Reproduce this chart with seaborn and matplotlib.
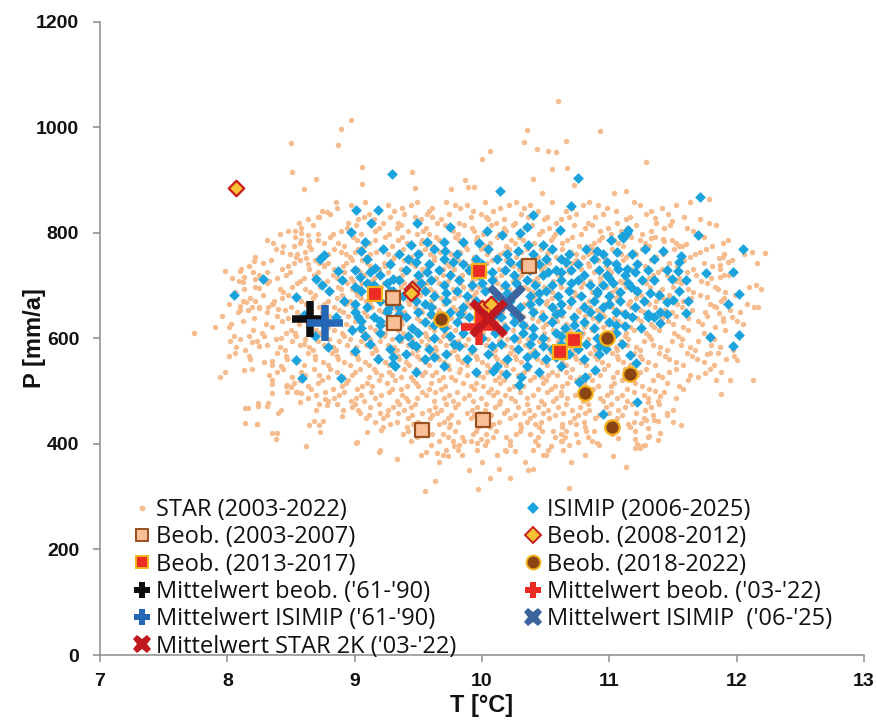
import matplotlib
matplotlib.use("Agg")
import matplotlib.pyplot as plt
import seaborn as sns
import pandas as pd
from matplotlib.lines import Line2D

# ---------------- data (read / estimated from the reference picture) ----------------
STAR_ROW_P = [847, 858, 841, 852, 825, 836, 819, 830, 803, 814, 797, 808, 781, 792, 775, 786,
              759, 770, 753, 764, 737, 748, 731, 742, 715, 726, 709, 720, 693, 704, 687, 698,
              671, 682, 665, 676, 649, 660, 643, 654, 627, 638, 621, 632, 605, 616, 599, 610,
              583, 594, 577, 588, 561, 572, 555, 566, 550,
              531, 542, 526, 537, 509, 520, 504, 515, 487, 498, 482, 493, 465, 476, 459, 470,
              442, 454, 437, 448, 419, 431, 413, 425, 405, 397, 389, 378, 365, 350]
STAR_ROW_T = [
    [8.86, 9.37, 9.61, 9.83, 10.14, 10.33, 10.71, 10.98, 11.41],
    [9.08, 9.49, 9.72, 10.02, 10.27, 10.55, 10.84, 11.19, 11.63],
    [8.74, 9.19, 9.31, 9.58, 9.93, 10.09, 10.44, 10.66, 11.05, 11.33],
    [8.97, 9.26, 9.44, 9.79, 9.88, 10.21, 10.38, 10.79, 10.91, 11.24, 11.52],
    [8.63, 9.03, 9.15, 9.52, 9.68, 10.05, 10.17, 10.49, 10.62, 11.13, 11.71],
    [8.81, 9.11, 9.39, 9.57, 9.74, 9.99, 10.31, 10.42, 10.74, 10.95, 11.29, 11.46],
    [8.56, 8.95, 9.22, 9.34, 9.65, 9.82, 10.11, 10.26, 10.58, 10.83, 11.06, 11.37, 11.78],
    [8.72, 9.07, 9.28, 9.47, 9.61, 9.91, 10.03, 10.36, 10.51, 10.68, 10.89, 11.16, 11.59],
    [8.48, 8.89, 9.16, 9.42, 9.54, 9.77, 9.94, 10.19, 10.47, 10.61, 10.93, 11.09, 11.33, 11.66],
    [8.67, 9.01, 9.13, 9.36, 9.71, 9.86, 10.07, 10.24, 10.39, 10.72, 10.86, 11.21, 11.48, 11.84],
    [8.41, 8.83, 9.05, 9.27, 9.49, 9.58, 9.81, 10.01, 10.13, 10.45, 10.57, 10.78, 11.01, 11.26, 11.69],
    [8.58, 8.94, 9.19, 9.33, 9.56, 9.74, 9.92, 10.17, 10.34, 10.53, 10.81, 10.99, 11.14, 11.43, 11.61],
    [8.36, 8.76, 8.87, 9.11, 9.41, 9.52, 9.69, 9.85, 10.06, 10.26, 10.41, 10.63, 10.88, 11.07, 11.28, 11.52, 11.89],
    [8.53, 8.81, 8.99, 9.24, 9.37, 9.64, 9.79, 9.96, 10.12, 10.29, 10.56, 10.71, 10.94, 11.17, 11.36, 11.74],
    [8.44, 8.64, 8.92, 9.07, 9.29, 9.45, 9.61, 9.87, 10.02, 10.19, 10.37, 10.49, 10.76, 10.85, 11.11, 11.31, 11.57, 11.81],
    [8.31, 8.58, 8.71, 9.02, 9.16, 9.34, 9.53, 9.66, 9.82, 9.95, 10.23, 10.32, 10.54, 10.67, 10.92, 11.04, 11.24, 11.49, 11.93],
    [8.49, 8.79, 8.93, 9.12, 9.26, 9.48, 9.59, 9.76, 10.04, 10.14, 10.39, 10.51, 10.74, 10.83, 11.09, 11.21, 11.42, 11.67, 12.06],
    [8.38, 8.66, 8.84, 9.03, 9.21, 9.38, 9.55, 9.71, 9.88, 9.99, 10.21, 10.35, 10.46, 10.63, 10.88, 11.02, 11.26, 11.51, 11.76],
    [8.22, 8.54, 8.72, 8.96, 9.09, 9.31, 9.44, 9.62, 9.79, 9.94, 10.11, 10.27, 10.44, 10.58, 10.79, 10.96, 11.13, 11.37, 11.63, 11.89],
    [8.43, 8.61, 8.89, 9.00, 9.17, 9.35, 9.51, 9.67, 9.83, 10.05, 10.17, 10.31, 10.52, 10.70, 10.86, 11.06, 11.19, 11.44, 11.71, 12.12],
    [8.17, 8.48, 8.76, 8.91, 9.12, 9.24, 9.47, 9.57, 9.74, 9.90, 10.01, 10.24, 10.38, 10.49, 10.66, 10.84, 10.97, 11.28, 11.53, 11.81],
    [8.34, 8.57, 8.69, 8.98, 9.06, 9.29, 9.39, 9.62, 9.81, 9.93, 10.08, 10.19, 10.41, 10.61, 10.74, 10.91, 11.11, 11.33, 11.59, 11.96],
    [8.11, 8.43, 8.64, 8.84, 9.02, 9.19, 9.36, 9.53, 9.69, 9.78, 9.98, 10.13, 10.29, 10.46, 10.57, 10.78, 10.99, 11.17, 11.41, 11.66, 11.87],
    [8.28, 8.52, 8.79, 8.93, 9.10, 9.23, 9.44, 9.58, 9.72, 9.87, 10.04, 10.22, 10.34, 10.53, 10.71, 10.83, 11.04, 11.23, 11.47, 11.74, 12.16],
    [8.04, 8.39, 8.60, 8.86, 8.97, 9.15, 9.33, 9.49, 9.64, 9.81, 9.95, 10.10, 10.28, 10.43, 10.62, 10.76, 10.93, 11.12, 11.31, 11.55, 11.80],
    [8.20, 8.49, 8.71, 8.92, 9.04, 9.26, 9.41, 9.55, 9.76, 9.89, 10.02, 10.18, 10.37, 10.49, 10.68, 10.88, 11.01, 11.19, 11.38, 11.61, 11.98],
    [8.09, 8.33, 8.57, 8.78, 8.99, 9.13, 9.30, 9.47, 9.61, 9.73, 9.92, 10.07, 10.24, 10.40, 10.56, 10.73, 10.85, 11.08, 11.27, 11.52, 11.72],
    [8.25, 8.46, 8.68, 8.83, 9.07, 9.18, 9.37, 9.52, 9.69, 9.84, 9.97, 10.15, 10.31, 10.47, 10.60, 10.81, 10.96, 11.14, 11.34, 11.45, 11.68, 11.94],
    [8.13, 8.41, 8.61, 8.89, 8.98, 9.11, 9.28, 9.44, 9.59, 9.77, 9.91, 10.05, 10.21, 10.36, 10.52, 10.67, 10.90, 11.05, 11.22, 11.41, 11.62, 11.85, 12.19],
    [8.31, 8.55, 8.74, 8.94, 9.06, 9.23, 9.39, 9.57, 9.66, 9.83, 10.01, 10.12, 10.28, 10.44, 10.61, 10.79, 10.93, 11.11, 11.29, 11.56, 11.77],
    [8.06, 8.44, 8.65, 8.81, 9.01, 9.15, 9.34, 9.48, 9.62, 9.79, 9.95, 10.09, 10.25, 10.39, 10.55, 10.72, 10.86, 11.02, 11.20, 11.39, 11.66, 11.91],
    [8.22, 8.51, 8.73, 8.87, 9.04, 9.21, 9.36, 9.54, 9.71, 9.85, 9.98, 10.16, 10.33, 10.49, 10.62, 10.78, 10.97, 11.13, 11.32, 11.50, 11.83, 12.10],
    [8.12, 8.37, 8.58, 8.79, 8.96, 9.09, 9.27, 9.42, 9.60, 9.74, 9.88, 10.04, 10.20, 10.37, 10.51, 10.69, 10.84, 11.00, 11.16, 11.37, 11.58, 11.88],
    [8.28, 8.48, 8.69, 8.90, 9.02, 9.18, 9.33, 9.51, 9.64, 9.82, 9.94, 10.11, 10.26, 10.42, 10.58, 10.74, 10.91, 11.07, 11.25, 11.47, 11.71, 11.99],
    [8.01, 8.35, 8.62, 8.76, 8.93, 9.12, 9.26, 9.43, 9.57, 9.70, 9.89, 10.03, 10.18, 10.33, 10.50, 10.64, 10.80, 10.97, 11.15, 11.31, 11.53, 11.79, 12.08],
    [8.18, 8.43, 8.67, 8.86, 9.05, 9.17, 9.35, 9.49, 9.68, 9.78, 9.93, 10.08, 10.23, 10.40, 10.55, 10.71, 10.89, 11.05, 11.21, 11.42, 11.64, 11.90],
    [8.08, 8.31, 8.55, 8.74, 8.91, 9.07, 9.22, 9.39, 9.53, 9.73, 9.86, 10.01, 10.16, 10.29, 10.47, 10.62, 10.76, 10.94, 11.10, 11.27, 11.49, 11.75, 12.03],
    [8.25, 8.50, 8.72, 8.84, 8.99, 9.14, 9.31, 9.47, 9.62, 9.77, 9.91, 10.06, 10.21, 10.38, 10.54, 10.68, 10.85, 11.02, 11.17, 11.36, 11.57, 11.84, 12.14],
    [7.96, 8.39, 8.61, 8.80, 8.95, 9.10, 9.28, 9.41, 9.58, 9.72, 9.84, 10.00, 10.14, 10.32, 10.46, 10.63, 10.81, 10.96, 11.13, 11.30, 11.52, 11.77],
    [8.16, 8.45, 8.66, 8.88, 9.01, 9.19, 9.33, 9.52, 9.66, 9.80, 9.96, 10.11, 10.27, 10.42, 10.58, 10.75, 10.90, 11.06, 11.24, 11.44, 11.65, 11.95],
    [8.03, 8.30, 8.56, 8.76, 8.93, 9.06, 9.24, 9.37, 9.55, 9.70, 9.87, 10.03, 10.17, 10.34, 10.50, 10.66, 10.82, 10.98, 11.11, 11.33, 11.50, 11.73, 12.05],
    [8.21, 8.48, 8.71, 8.85, 9.03, 9.17, 9.30, 9.49, 9.63, 9.76, 9.93, 10.07, 10.25, 10.39, 10.55, 10.71, 10.87, 11.04, 11.22, 11.41, 11.62, 11.89],
    [7.90, 8.35, 8.63, 8.79, 8.97, 9.12, 9.27, 9.43, 9.59, 9.74, 9.89, 10.02, 10.19, 10.35, 10.48, 10.64, 10.80, 10.95, 11.16, 11.35, 11.58, 11.83],
    [8.12, 8.43, 8.66, 8.87, 9.00, 9.21, 9.36, 9.51, 9.65, 9.81, 9.97, 10.12, 10.28, 10.44, 10.59, 10.73, 10.91, 11.07, 11.25, 11.46, 11.70, 12.00],
    [8.05, 8.29, 8.54, 8.75, 8.92, 9.08, 9.23, 9.40, 9.56, 9.69, 9.84, 10.00, 10.15, 10.31, 10.47, 10.62, 10.78, 10.94, 11.12, 11.31, 11.54, 11.78],
    [8.20, 8.50, 8.70, 8.84, 9.04, 9.16, 9.34, 9.48, 9.62, 9.79, 9.93, 10.09, 10.24, 10.40, 10.56, 10.69, 10.86, 11.03, 11.19, 11.39, 11.62, 11.91],
    [8.10, 8.38, 8.61, 8.80, 8.96, 9.12, 9.29, 9.45, 9.58, 9.75, 9.89, 10.05, 10.20, 10.36, 10.52, 10.66, 10.83, 11.00, 11.15, 11.33, 11.57, 11.82],
    [8.27, 8.53, 8.73, 8.90, 9.07, 9.24, 9.38, 9.55, 9.71, 9.86, 10.01, 10.17, 10.33, 10.49, 10.63, 10.79, 10.97, 11.13, 11.29, 11.51, 11.74, 12.02],
    [8.07, 8.41, 8.64, 8.83, 9.01, 9.15, 9.31, 9.46, 9.63, 9.78, 9.92, 10.08, 10.23, 10.37, 10.53, 10.70, 10.88, 11.05, 11.21, 11.40, 11.63, 11.87],
    [8.23, 8.51, 8.71, 8.88, 9.05, 9.20, 9.36, 9.52, 9.67, 9.81, 9.98, 10.13, 10.29, 10.45, 10.60, 10.76, 10.92, 11.09, 11.27, 11.49, 11.70],
    [8.14, 8.45, 8.67, 8.85, 9.00, 9.17, 9.33, 9.49, 9.64, 9.78, 9.94, 10.10, 10.25, 10.41, 10.57, 10.72, 10.89, 11.06, 11.24, 11.45, 11.67, 11.97],
    [8.31, 8.57, 8.76, 8.94, 9.09, 9.26, 9.42, 9.57, 9.72, 9.87, 10.03, 10.18, 10.34, 10.50, 10.65, 10.81, 10.97, 11.14, 11.34, 11.56, 11.80],
    [8.18, 8.47, 8.69, 8.87, 9.03, 9.19, 9.35, 9.51, 9.66, 9.81, 9.96, 10.12, 10.27, 10.43, 10.58, 10.74, 10.90, 11.07, 11.26, 11.47, 11.69, 11.92],
    [8.06, 8.39, 8.63, 8.82, 8.98, 9.14, 9.30, 9.45, 9.60, 9.75, 9.91, 10.07, 10.22, 10.38, 10.54, 10.69, 10.85, 11.02, 11.19, 11.39, 11.61, 11.85],
    [8.29, 8.55, 8.75, 8.92, 9.08, 9.24, 9.40, 9.55, 9.70, 9.84, 10.00, 10.16, 10.31, 10.47, 10.63, 10.78, 10.94, 11.11, 11.30, 11.52, 11.74],
    [8.17, 8.46, 8.69, 8.86, 9.02, 9.18, 9.34, 9.49, 9.65, 9.80, 9.95, 10.10, 10.26, 10.42, 10.57, 10.73, 10.89, 11.06, 11.24, 11.44, 11.65, 11.98],
    [8.35, 8.60, 8.79, 8.96, 9.11, 9.27, 9.43, 9.58, 9.73, 9.88, 10.04, 10.19, 10.35, 10.51, 10.66, 10.82, 10.99, 11.16, 11.36, 11.58, 11.82],
    [8.33, 8.61, 8.72, 8.98, 9.21, 9.29, 9.53, 9.61, 9.88, 9.97, 10.19, 10.28, 10.52, 10.59, 10.84, 10.93, 11.22, 11.38, 11.63],
    [8.19, 8.44, 8.68, 8.81, 9.04, 9.15, 9.39, 9.48, 9.74, 9.83, 10.06, 10.24, 10.36, 10.61, 10.71, 10.96, 11.12, 11.29, 11.52, 11.79],
    [8.51, 8.79, 8.91, 9.11, 9.36, 9.44, 9.69, 9.76, 10.01, 10.13, 10.41, 10.47, 10.69, 10.77, 11.03, 11.16, 11.41, 11.70],
    [8.39, 8.58, 8.86, 9.00, 9.17, 9.27, 9.55, 9.64, 9.82, 10.04, 10.15, 10.33, 10.55, 10.66, 10.88, 11.06, 11.24, 11.47, 11.88],
    [8.46, 8.63, 8.90, 9.06, 9.14, 9.41, 9.50, 9.71, 9.91, 10.01, 10.25, 10.32, 10.57, 10.63, 10.91, 11.01, 11.26, 11.55],
    [8.35, 8.57, 8.74, 8.95, 9.19, 9.32, 9.46, 9.66, 9.79, 10.10, 10.17, 10.38, 10.50, 10.74, 10.86, 11.10, 11.34, 11.62, 11.95],
    [8.66, 8.83, 9.02, 9.29, 9.36, 9.58, 9.68, 9.94, 10.07, 10.21, 10.44, 10.54, 10.79, 10.87, 11.14, 11.31, 11.58],
    [8.52, 8.71, 8.93, 9.10, 9.25, 9.48, 9.60, 9.85, 9.95, 10.14, 10.29, 10.48, 10.67, 10.80, 11.04, 11.20, 11.45],
    [8.63, 8.84, 9.01, 9.16, 9.40, 9.49, 9.70, 9.86, 9.99, 10.23, 10.35, 10.58, 10.67, 10.93, 11.06, 11.30, 11.52],
    [8.55, 8.77, 8.92, 9.13, 9.27, 9.53, 9.63, 9.80, 10.05, 10.12, 10.30, 10.51, 10.62, 10.85, 11.01, 11.19, 11.43],
    [8.79, 8.97, 9.07, 9.33, 9.42, 9.62, 9.77, 9.93, 10.14, 10.26, 10.46, 10.56, 10.79, 10.95, 11.14, 11.38],
    [8.70, 8.88, 9.05, 9.21, 9.37, 9.56, 9.74, 9.90, 10.09, 10.18, 10.40, 10.62, 10.73, 10.98, 11.10, 11.27],
    [8.91, 9.03, 9.26, 9.39, 9.58, 9.68, 9.92, 10.02, 10.20, 10.37, 10.52, 10.71, 10.84, 11.07, 11.28, 11.50],
    [8.86, 9.00, 9.19, 9.35, 9.47, 9.72, 9.81, 10.03, 10.13, 10.35, 10.49, 10.66, 10.83, 11.01, 11.18, 11.39],
    [9.04, 9.20, 9.34, 9.53, 9.65, 9.88, 9.98, 10.17, 10.33, 10.48, 10.64, 10.81, 11.00, 11.21, 11.45],
    [8.98, 9.12, 9.30, 9.44, 9.63, 9.79, 9.96, 10.10, 10.28, 10.44, 10.60, 10.77, 10.97, 11.12, 11.33],
    [9.16, 9.33, 9.50, 9.70, 9.81, 10.03, 10.13, 10.35, 10.46, 10.69, 10.80, 11.03, 11.19],
    [9.11, 9.25, 9.45, 9.61, 9.76, 9.94, 10.07, 10.26, 10.41, 10.57, 10.75, 10.92, 11.10, 11.34],
    [9.28, 9.46, 9.66, 9.75, 9.98, 10.09, 10.30, 10.42, 10.63, 10.74, 10.98, 11.15],
    [9.09, 9.22, 9.42, 9.59, 9.73, 9.91, 10.04, 10.22, 10.38, 10.53, 10.72, 10.89, 11.06, 11.27],
    [9.38, 9.61, 9.69, 9.93, 10.03, 10.27, 10.38, 10.62, 10.74, 11.02],
    [9.22, 9.41, 9.57, 9.74, 9.97, 10.06, 10.31, 10.45, 10.63, 10.81, 10.97, 11.16],
    [9.49, 9.73, 9.84, 10.09, 10.19, 10.44, 10.57, 10.83],
    [9.42, 9.55, 9.79, 9.95, 10.11, 10.30, 10.47, 10.66, 10.88],
    [9.44, 9.66, 9.86, 10.04, 10.22, 10.42, 10.63, 10.86],
    [9.60, 9.82, 10.02, 10.22, 10.44, 10.68, 10.92],
    [9.72, 9.96, 10.18, 10.40, 10.64],
    [9.52, 9.84, 10.12, 10.48, 10.81],
    [9.66, 10.00, 10.34, 10.70],
    [9.90, 10.36],
]
STAR_EXTRA = [
    (10.60, 1049), (10.35, 994), (10.33, 972), (10.93, 992), (10.66, 973), (10.43, 959), (10.52, 955),
    (10.58, 953), (10.06, 955), (10.00, 939), (10.55, 920), (10.67, 922), (11.29, 934), (9.45, 914),
    (10.40, 901), (9.87, 900), (9.89, 886), (9.94, 887), (9.76, 882), (9.47, 885), (10.47, 876),
    (10.72, 890), (11.04, 876), (11.13, 878), (11.36, 828), (11.49, 823), (11.43, 785),
    (8.97, 1013), (8.89, 996), (8.87, 967), (8.50, 969), (8.51, 915), (9.06, 925), (9.06, 893),
    (8.70, 902), (8.60, 883), (8.85, 859), (8.78, 840), (8.71, 830), (8.53, 804), (8.58, 799),
    (8.63, 795), (8.64, 785), (8.71, 797),
    (11.78, 864), (12.22, 761), (12.15, 701), (12.17, 660), (12.13, 520), (11.88, 494), (11.84, 521),
    (12.00, 559), (11.75, 534), (11.77, 571), (11.79, 573), (11.77, 679), (11.82, 662), (11.86, 647),
    (11.96, 640), (11.89, 632), (11.86, 752), (11.90, 760), (11.87, 738), (11.93, 744), (11.87, 716),
    (11.90, 720), (11.55, 775), (11.60, 778), (11.42, 788), (11.33, 790), (11.56, 436), (11.45, 455),
    (11.50, 442), (11.40, 420), (11.20, 410), (11.30, 412), (11.38, 408), (11.22, 400), (11.28, 398),
    (7.74, 609), (7.94, 527), (7.98, 537), (7.98, 727), (8.01, 622), (8.01, 567), (8.02, 595),
    (8.13, 540), (8.14, 440), (8.23, 438), (8.16, 468), (8.24, 472), (8.31, 472), (8.35, 420),
    (8.39, 420), (8.38, 409), (8.35, 497), (8.21, 746), (8.10, 727), (8.13, 716), (8.12, 706),
    (8.25, 695), (8.31, 726), (8.22, 712), (8.10, 662), (8.15, 668), (8.19, 660), (8.22, 670),
    (8.10, 654), (8.25, 657), (8.32, 660), (8.36, 665), (8.40, 655), (8.17, 605), (8.25, 585),
    (8.19, 592), (8.42, 600), (8.46, 609), (8.53, 608), (8.60, 590), (8.35, 557), (8.42, 548),
    (8.50, 507), (8.58, 497), (8.47, 511), (8.62, 396), (9.02, 403), (9.20, 388), (8.72, 475),
    (8.77, 484), (8.90, 453), (8.68, 443), (8.75, 443), (8.52, 775), (8.57, 780), (8.55, 760),
    (8.62, 752), (8.63, 740), (8.72, 742), (8.76, 738),
    (8.14, 468), (8.24, 477), (8.32, 478), (8.23, 437), (8.35, 513), (8.47, 499), (8.54, 499),
    (8.42, 465), (8.40, 459), (8.57, 480), (8.64, 436), (8.73, 423), (8.72, 436), (8.70, 464),
    (8.78, 474), (9.01, 402), (9.10, 423), (9.21, 426), (9.19, 385), (9.33, 371), (9.55, 311),
    (9.63, 330), (9.69, 379), (9.73, 377), (9.56, 385), (9.65, 383), (9.77, 405), (9.78, 395),
    (9.81, 388), (9.91, 405), (9.96, 402), (9.99, 410), (9.97, 314), (10.13, 353), (10.22, 335),
    (10.06, 335), (10.19, 386), (10.26, 386), (10.40, 352), (10.56, 424), (10.62, 405), (10.65, 412),
    (10.50, 378), (10.52, 388), (10.54, 395), (10.68, 317), (10.75, 403), (10.82, 424), (10.90, 401),
    (11.03, 377), (11.13, 357), (11.07, 411), (11.20, 425), (11.25, 440), (11.30, 430), (11.31, 415),
    (11.29, 445), (11.20, 393), (11.24, 393), (11.26, 395), (11.35, 445), (11.38, 443), (11.30, 480),
    (11.36, 500), (11.40, 490),
]

ISI_ROW_P = [770, 760, 750, 740, 730, 720, 710, 700, 690, 680, 670, 660, 650, 640, 630, 620,
             610, 600, 590, 580, 570, 560, 548, 536,
             765, 745, 725, 705, 685, 665, 645, 625, 605, 585, 565]
ISI_ROW_T = [
    [9.22, 9.62, 10.05, 10.55, 10.82, 11.28],
    [9.35, 9.50, 9.80, 10.20, 10.40, 10.68, 10.95, 11.18],
    [9.10, 9.42, 9.70, 9.95, 10.12, 10.50, 10.62, 10.88, 11.35],
    [9.28, 9.58, 9.85, 10.00, 10.30, 10.45, 10.75, 11.05, 11.22],
    [9.00, 9.40, 9.66, 9.90, 10.18, 10.38, 10.58, 10.70, 10.92, 11.30, 11.45],
    [9.20, 9.50, 9.75, 9.98, 10.25, 10.48, 10.80, 10.98, 11.12],
    [8.90, 9.35, 9.60, 9.82, 10.08, 10.35, 10.62, 10.75, 11.35, 11.60],
    [9.15, 9.45, 9.70, 9.92, 10.18, 10.42, 10.55, 10.85, 10.95],
    [9.05, 9.28, 9.55, 9.80, 10.02, 10.28, 10.50, 10.68, 10.90, 11.22, 11.55],
    [9.38, 9.62, 9.88, 10.12, 10.38, 10.60, 10.78, 11.00],
    [8.92, 9.20, 9.48, 9.72, 9.95, 10.22, 10.45, 10.70, 10.88, 11.08, 11.62],
    [9.10, 9.35, 9.60, 9.85, 10.30, 10.55, 10.80, 10.95, 11.20],
    [9.25, 9.50, 9.75, 10.00, 10.40, 10.62, 10.85, 11.05, 11.40],
    [8.85, 9.15, 9.40, 9.65, 9.90, 10.15, 10.48, 10.72, 10.92, 11.18, 11.30],
    [9.30, 9.55, 9.80, 10.25, 10.55, 10.80, 11.00],
    [9.05, 9.45, 9.70, 9.95, 10.18, 10.40, 10.65, 10.88, 11.25],
    [9.20, 9.50, 9.85, 10.10, 10.32, 10.58, 10.75, 11.05],
    [9.35, 9.62, 10.00, 10.25, 10.48, 10.70, 10.90],
    [9.12, 9.45, 9.78, 10.15, 10.38, 10.62, 10.82, 11.10],
    [9.28, 9.58, 9.92, 10.28, 10.55, 10.75],
    [9.40, 9.72, 10.05, 10.42, 10.68, 10.92],
    [9.18, 9.55, 9.88, 10.20, 10.50, 10.80],
    [9.32, 9.70, 10.12, 10.35, 10.62],
    [9.48, 9.95, 10.45],
    [9.05, 9.71, 10.28, 10.90, 11.42],
    [9.48, 9.77, 10.22, 10.66, 10.98, 11.55],
    [9.12, 9.57, 10.08, 10.52, 10.62, 11.20],
    [9.25, 9.52, 10.00, 10.27, 10.70, 11.15],
    [9.17, 9.45, 9.72, 10.20, 10.45, 10.90, 11.32],
    [9.00, 9.28, 9.55, 10.10, 10.38, 10.62, 11.00],
    [9.35, 9.60, 9.83, 10.25, 10.58, 11.12],
    [9.20, 9.62, 10.08, 10.32, 10.72, 11.05],
    [9.08, 9.42, 9.75, 10.40, 10.62, 10.98],
    [9.48, 9.82, 10.08, 10.48, 10.92],
    [9.30, 9.62, 10.35, 10.58],
]
ISI_EXTRA = [
    (9.29, 911), (9.01, 842), (9.18, 843), (9.13, 818), (8.97, 802), (9.08, 782), (10.14, 879),
    (10.75, 904), (10.70, 850), (10.40, 833), (9.49, 819), (9.75, 811), (10.04, 803), (10.16, 795),
    (10.30, 800), (10.35, 810), (10.61, 805), (11.01, 787), (11.15, 805), (11.10, 794), (9.57, 782),
    (9.70, 783), (9.85, 783), (9.98, 780), (9.44, 776), (10.36, 776), (10.48, 777),
    (11.71, 868), (11.70, 795), (12.05, 770), (11.56, 756), (11.76, 724), (11.97, 726), (11.54, 728),
    (11.49, 713), (12.02, 683), (11.93, 665), (11.60, 648), (11.79, 602), (12.02, 607), (11.97, 586),
    (11.39, 682), (11.50, 672), (11.45, 668), (11.27, 671), (11.26, 710), (11.17, 698), (11.08, 688),
    (11.14, 732), (11.07, 731), (11.03, 705), (11.00, 715), (11.06, 763), (11.11, 790), (11.14, 800),
    (11.30, 645), (11.35, 640), (11.40, 628), (11.45, 645), (11.12, 624), (11.16, 569), (11.21, 554),
    (11.22, 479), (10.95, 456), (10.97, 580),
    (8.28, 713), (8.05, 681), (8.54, 679), (8.70, 712), (8.74, 700), (8.80, 690), (8.87, 728),
    (9.16, 734), (9.04, 716), (9.00, 698), (9.10, 705), (8.73, 751), (8.76, 758), (8.60, 644),
    (9.00, 650), (9.03, 640), (9.05, 633), (9.20, 633), (9.26, 656), (8.98, 616), (8.69, 605),
    (8.79, 584), (9.00, 575), (8.54, 559), (8.59, 524), (8.89, 525), (9.30, 552), (9.30, 690),
    (9.30, 712), (10.09, 538), (10.19, 532), (10.31, 527), (10.29, 511), (10.76, 518), (10.81, 526),
    (10.89, 540),
]

B0307_T = [9.30, 9.31, 10.37, 9.53, 10.01]
B0307_P = [677, 628, 737, 426, 446]
B0812_T = [8.07, 9.45, 9.44, 10.00, 10.07]
B0812_P = [884, 693, 686, 658, 665]
B1317_T = [9.16, 9.98, 10.72, 10.61, 10.00]
B1317_P = [684, 728, 597, 574, 640]
B1822_T = [9.68, 10.98, 10.81, 11.02, 11.16]
B1822_P = [636, 601, 497, 432, 532]

MEAN_LABELS = ["Mittelwert beob. ('61-'90)", "Mittelwert beob. ('03-'22)",
               "Mittelwert ISIMIP ('61-'90)", "Mittelwert ISIMIP  ('06-'25)",
               "Mittelwert STAR 2K ('03-'22)"]
MEAN_T = [8.65, 9.98, 8.77, 10.19, 10.05]
MEAN_P = [636, 622, 629, 667, 638]

X_TICKS = [7, 8, 9, 10, 11, 12, 13]
Y_TICKS = [0, 200, 400, 600, 800, 1000, 1200]

# ---------------- build tables ----------------
def rows_to_df(row_p, row_t, extra):
    t, p = [], []
    for pv, tl in zip(row_p, row_t):
        for tv in tl:
            t.append(tv)
            p.append(pv)
    for tv, pv in extra:
        t.append(tv)
        p.append(pv)
    return pd.DataFrame({"T": t, "P": p})

star = rows_to_df(STAR_ROW_P, STAR_ROW_T, STAR_EXTRA)
isi = rows_to_df(ISI_ROW_P, ISI_ROW_T, ISI_EXTRA)

# ---------------- style ----------------
sns.set_theme(style="white")
LEG_FONT = ["Open Sans", "DejaVu Sans"]
AX_FONT = ["Liberation Sans", "DejaVu Sans"]
plt.rcParams["font.family"] = AX_FONT

C_STAR = "#F6BC8E"
C_ISI = "#1AA3DD"
SPINE = "#8C8C8C"
TXT = "#111111"

fig = plt.figure(figsize=(8.76, 7.22), dpi=100)
ax = fig.add_axes([100 / 876, 1 - 655 / 722, 764 / 876, (655 - 21.5) / 722])

sns.scatterplot(data=star, x="T", y="P", ax=ax, color=C_STAR, s=15, marker="o",
                linewidth=0, zorder=2)
sns.scatterplot(data=isi, x="T", y="P", ax=ax, color=C_ISI, s=30, marker="D",
                linewidth=0, zorder=3)
sns.scatterplot(x=B0307_T, y=B0307_P, ax=ax, color="#F9BF96", marker="s", s=95,
                edgecolor="#9A4F1F", linewidth=1.6, zorder=4)
sns.scatterplot(x=B0812_T, y=B0812_P, ax=ax, color="#F6C135", marker="D", s=62,
                edgecolor="#C81E1E", linewidth=1.6, zorder=5)
sns.scatterplot(x=B1317_T, y=B1317_P, ax=ax, color="#EC2B24", marker="s", s=95,
                edgecolor="#F7B31B", linewidth=1.6, zorder=6)
sns.scatterplot(x=B1822_T, y=B1822_P, ax=ax, color="#8B4513", marker="o", s=110,
                edgecolor="#F5B21C", linewidth=1.6, zorder=7)

MEAN_STYLE = [("#0D0D0D", "+"), ("#EC2B24", "+"), ("#2467B4", "+"), ("#3C65A0", "x"), ("#C0181E", "x")]
for i, (col, mk) in enumerate(MEAN_STYLE):
    sns.scatterplot(x=[MEAN_T[i]], y=[MEAN_P[i]], ax=ax, color=col, marker=mk,
                    s=(26 if mk == "+" else 24) ** 2, linewidth=5.4, zorder=8 + i)

ax.set_xlim(7, 13)
ax.set_ylim(0, 1200)
ax.set_xticks(X_TICKS)
ax.set_yticks(Y_TICKS)
ax.set_xticklabels([str(v) for v in X_TICKS], fontweight="bold", fontsize=14, color=TXT)
ax.set_yticklabels([str(v) for v in Y_TICKS], fontweight="bold", fontsize=14, color=TXT)
ax.set_xlabel("T [°C]", fontweight="bold", fontsize=17, color=TXT)
ax.set_ylabel("P [mm/a]", fontweight="bold", fontsize=17, color=TXT)
ax.xaxis.set_label_coords(0.5, (655 - 694) / 633.5)
ax.yaxis.set_label_coords((46 - 100) / 764, 0.5)

for side in ["top", "right"]:
    ax.spines[side].set_visible(False)
for side in ["left", "bottom"]:
    ax.spines[side].set_color(SPINE)
    ax.spines[side].set_linewidth(1.1)
ax.tick_params(axis="both", which="major", direction="out", length=5, width=1.1,
               color=SPINE, bottom=True, left=True, pad=10)
ax.tick_params(axis="x", pad=8)
ax.grid(False)

# ---------------- legend (two columns) ----------------
def h(marker, face, edge=None, ms=8, mew=0.0):
    return Line2D([], [], linestyle="none", marker=marker, markerfacecolor=face,
                  markeredgecolor=edge if edge else face, markersize=ms, markeredgewidth=mew)

col1 = [h("o", C_STAR, ms=4.2),
        h("s", "#F9BF96", "#9A4F1F", ms=8.5, mew=1.4),
        h("s", "#EC2B24", "#F7B31B", ms=8.5, mew=1.4),
        h("P", "#0D0D0D", ms=12),
        h("P", "#2467B4", ms=12),
        h("X", "#C0181E", ms=13)]
lab1 = ["STAR (2003-2022)", "Beob. (2003-2007)", "Beob. (2013-2017)",
        MEAN_LABELS[0], MEAN_LABELS[2], MEAN_LABELS[4]]
col2 = [h("D", C_ISI, ms=6),
        h("D", "#F6C135", "#C81E1E", ms=8.5, mew=1.4),
        h("o", "#8B4513", "#F5B21C", ms=10, mew=1.4),
        h("P", "#EC2B24", ms=12),
        h("X", "#3C65A0", ms=13)]
lab2 = ["ISIMIP (2006-2025)", "Beob. (2008-2012)", "Beob. (2018-2022)",
        MEAN_LABELS[1], MEAN_LABELS[3]]

leg_kw = dict(frameon=False, prop={"family": LEG_FONT, "size": 17}, handlelength=0.8,
              handletextpad=0.2, labelspacing=0.14, borderaxespad=0, borderpad=0,
              loc="upper left", bbox_transform=fig.transFigure)
leg1 = ax.legend(col1, lab1, bbox_to_anchor=(132.5 / 876, 1 - 498 / 722), **leg_kw)
ax.add_artist(leg1)
leg2 = ax.legend(col2, lab2, bbox_to_anchor=(523.5 / 876, 1 - 498 / 722), **leg_kw)
for lg in (leg1, leg2):
    for t in lg.get_texts():
        t.set_color(TXT)

fig.savefig("out.png", dpi=100)
